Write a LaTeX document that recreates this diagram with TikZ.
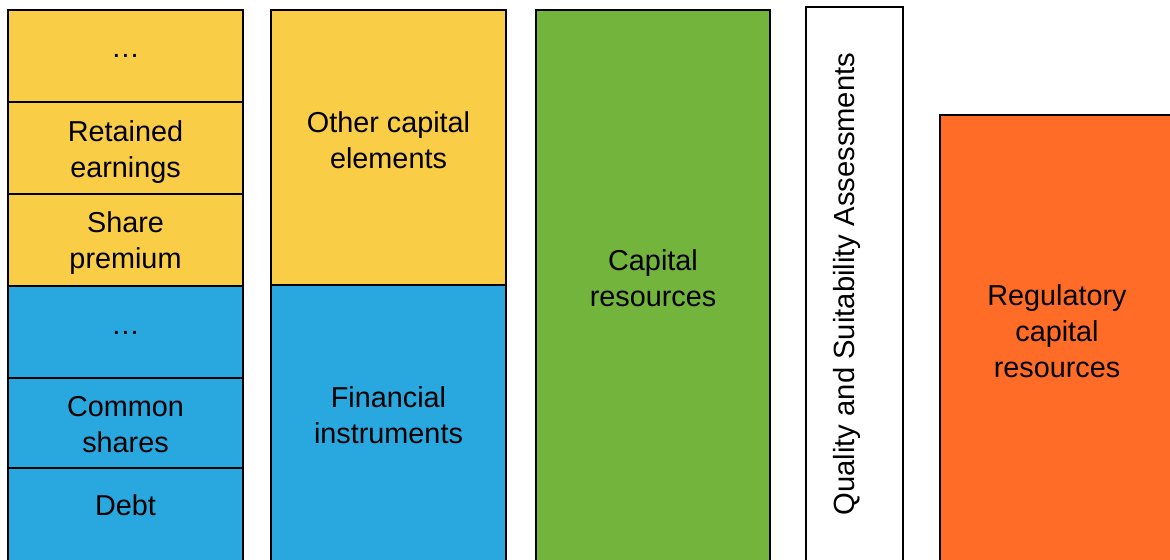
\documentclass[tikz,border=0pt]{standalone}
\usepackage{fontspec}
\setmainfont{Liberation Sans}
\definecolor{ylw}{RGB}{250,205,70}
\definecolor{blu}{RGB}{41,168,224}
\definecolor{grn}{RGB}{114,180,60}
\definecolor{org}{RGB}{255,108,40}
\begin{document}
\begin{tikzpicture}[x=0.5pt,y=-0.5pt,line width=0.75pt,
    every node/.style={align=center,inner sep=0pt,font=\fontsize{14.4}{18}\selectfont},
    box/.style={draw=black}]
    \useasboundingbox(0,0)rectangle(1170,559);
    \clip(0,0)rectangle(1170,559);
    % components
    \foreach \y in {10,102,194}
      \draw[box,fill=ylw](8,\y)rectangle(243,\y+92);
    \foreach \y in {286,378}
      \draw[box,fill=blu](8,\y)rectangle(243,\y+92);
    \draw[box,fill=blu](8,468)rectangle(243,580);
    \node[anchor=base](dotsA)at(125.5,57){\dots};
    \node(retained)at(125.5,152){Retained\\earnings};
    \node(premium)at(125.5,243){Share\\premium};
    \node[anchor=base](dotsB)at(125.5,334){\dots};
    \node(common)at(125.5,425){Common\\shares};
    \node(debt)at(125.5,505){Debt};
    % groups
    \draw[box,fill=ylw](271,10)rectangle(506,285);
    \draw[box,fill=blu](271,285)rectangle(506,580);
    \node(other)at(388.5,140){Other capital\\elements};
    \node(financial)at(388.5,415){Financial\\instruments};
    % capital resources
    \draw[box,fill=grn](536,10)rectangle(770,580);
    \node(capital)at(653,278){Capital\\resources};
    % assessments
    \draw[box,fill=white](806,7)rectangle(903,580);
    \node[rotate=90,font=\fontsize{14.6}{18}\selectfont](quality)at(847,284){Quality and Suitability Assessments};
    % regulatory
    \draw[box,fill=org](940,115)rectangle(1180,580);
    \node(regulatory)at(1057,331){Regulatory\\capital\\resources};
  \end{tikzpicture}
\end{document}
